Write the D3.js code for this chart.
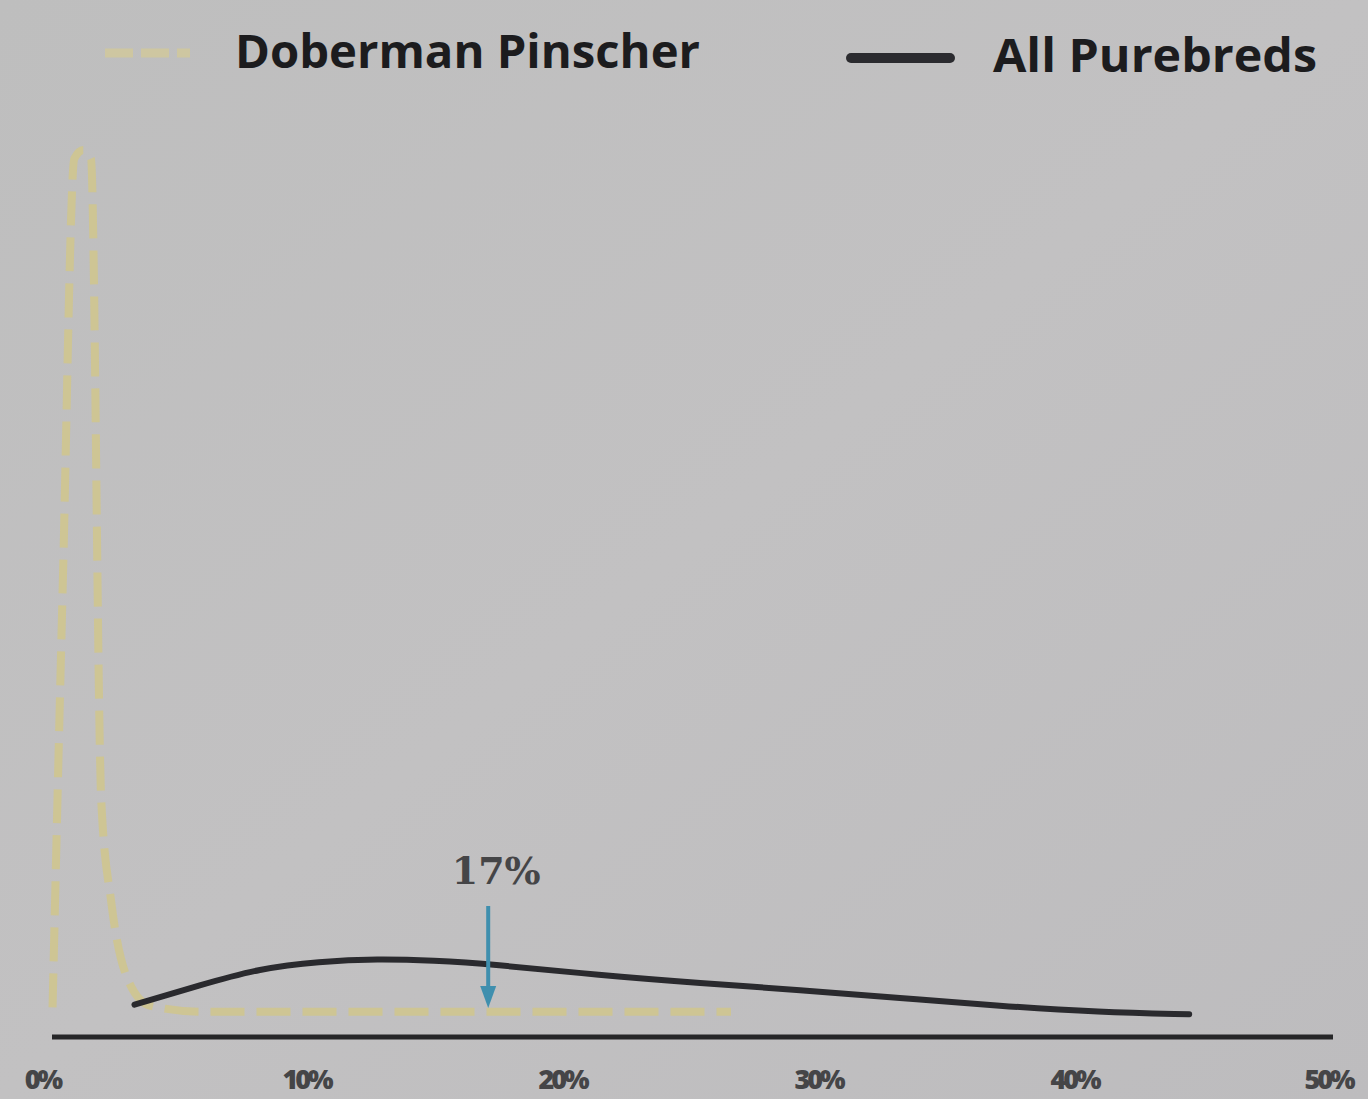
<!DOCTYPE html>
<html>
<head>
<meta charset="utf-8">
<script src="https://cdn.jsdelivr.net/npm/d3@7/dist/d3.min.js"></script>
<style>
  html, body { margin: 0; padding: 0; background: #bfbfc0; }
  svg { display: block; }
</style>
</head>
<body>
<svg id="chart" width="1368" height="1099"></svg>
<script>
// ---- data (inbreeding coefficient %, relative density) ----
const seriesNames = ["Doberman Pinscher", "All Purebreds"];
const dobermanX = [0.1, 0.5, 0.95, 1.3, 1.6, 2.0, 2.4, 3.0, 3.9, 5.9, 26.6];
const dobermanY = [1, 50, 99, 100, 99, 25, 13, 4.5, 1.2, 0.5, 0.5];
const purebredX = [3.3, 5.9, 8.2, 10.5, 12.8, 15, 17.2, 21.5, 25.4, 29.3, 33.2, 37.1, 41, 44.5];
const purebredY = [1.3, 3.6, 5.5, 6.3, 6.6, 6.4, 6.0, 4.7, 3.8, 3.0, 2.1, 1.15, 0.45, 0.2];
const tickValues = [0, 10, 20, 30, 40, 50];
const tickLabels = ["0%", "10%", "20%", "30%", "40%", "50%"];
const markerValue = 17;
const markerLabel = "17%";

const svg = d3.select("#chart");
const W = 1368, H = 1099;

// background
const defs = svg.append("defs");
const grad = defs.append("linearGradient").attr("id", "bg").attr("x1", 0).attr("y1", 0).attr("x2", 1).attr("y2", 1);
grad.append("stop").attr("offset", "0%").attr("stop-color", "#bebebe");
grad.append("stop").attr("offset", "50%").attr("stop-color", "#c2c1c2");
grad.append("stop").attr("offset", "100%").attr("stop-color", "#bdbcbe");
svg.append("rect").attr("width", W).attr("height", H).attr("fill", "url(#bg)");

const x = d3.scaleLinear().domain([0, 50]).range([50, 1330]);
const y = d3.scaleLinear().domain([0, 100]).range([1016, 150]);

// axis
const axis = d3.axisBottom(x).tickValues(tickValues).tickSize(0).tickPadding(33)
  .tickFormat((d, i) => tickLabels[i]);
const gAxis = svg.append("g").attr("transform", "translate(0,1037)").call(axis);
gAxis.select(".domain").attr("stroke", "#262628").attr("stroke-width", 5)
  .attr("d", `M${x(0) + 2},0H${x(50) + 3}`);
gAxis.selectAll(".tick text")
  .attr("fill", "#454547").attr("font-family", "'Open Sans', sans-serif")
  .attr("font-weight", 800).attr("font-size", 27).attr("letter-spacing", -3);
gAxis.selectAll(".tick").filter(d => d === 0).select("text").attr("dx", -8);
gAxis.selectAll(".tick").filter(d => d === 50).select("text").attr("dx", -2);

// lines
const dobLine = d3.line().x(d => x(d[0])).y(d => y(d[1])).curve(d3.curveMonotoneX);
const pureLine = d3.line().x(d => x(d[0])).y(d => y(d[1])).curve(d3.curveBasis);
const dobData = dobermanX.map((v, i) => [v, dobermanY[i]]);
const pureData = purebredX.map((v, i) => [v, purebredY[i]]);

svg.append("path").datum(dobData).attr("d", dobLine)
  .attr("fill", "none").attr("stroke", "#cfc58f").attr("stroke-width", 8)
  .attr("stroke-dasharray", "34,12").attr("opacity", 0.9);

svg.append("path").datum(pureData).attr("d", pureLine)
  .attr("fill", "none").attr("stroke", "#2a2a2e").attr("stroke-width", 6)
  .attr("stroke-linecap", "round");

// marker arrow
const mx = x(markerValue) + 3;
svg.append("line").attr("x1", mx).attr("x2", mx).attr("y1", 906).attr("y2", 996)
  .attr("stroke", "#3f8fae").attr("stroke-width", 4);
svg.append("path")
  .attr("d", `M${mx - 8},986 L${mx + 8},986 L${mx},1008 Z`)
  .attr("fill", "#3f8fae");
svg.append("text").attr("x", mx + 8).attr("y", 884).attr("text-anchor", "middle")
  .attr("font-family", "'DejaVu Serif', serif").attr("font-weight", "bold")
  .attr("font-size", 38).attr("fill", "#454547").text(markerLabel);

// legend
svg.append("line").attr("x1", 105).attr("x2", 190).attr("y1", 53).attr("y2", 53)
  .attr("stroke", "#d2c99a").attr("stroke-width", 9).attr("stroke-dasharray", "28,8")
  .attr("opacity", 0.8);
svg.append("text").attr("x", 235).attr("y", 68)
  .attr("font-family", "'Open Sans', sans-serif").attr("font-weight", "bold")
  .attr("font-size", 46).attr("fill", "#1c1c1e")
  .attr("textLength", 465).attr("lengthAdjust", "spacingAndGlyphs").text(seriesNames[0]);

svg.append("line").attr("x1", 851).attr("x2", 950).attr("y1", 58).attr("y2", 58)
  .attr("stroke", "#2b2b2f").attr("stroke-width", 10).attr("stroke-linecap", "round");
svg.append("text").attr("x", 993).attr("y", 72)
  .attr("font-family", "'Open Sans', sans-serif").attr("font-weight", "bold")
  .attr("font-size", 46).attr("fill", "#1c1c1e")
  .attr("textLength", 324).attr("lengthAdjust", "spacingAndGlyphs").text(seriesNames[1]);
</script>
</body>
</html>
